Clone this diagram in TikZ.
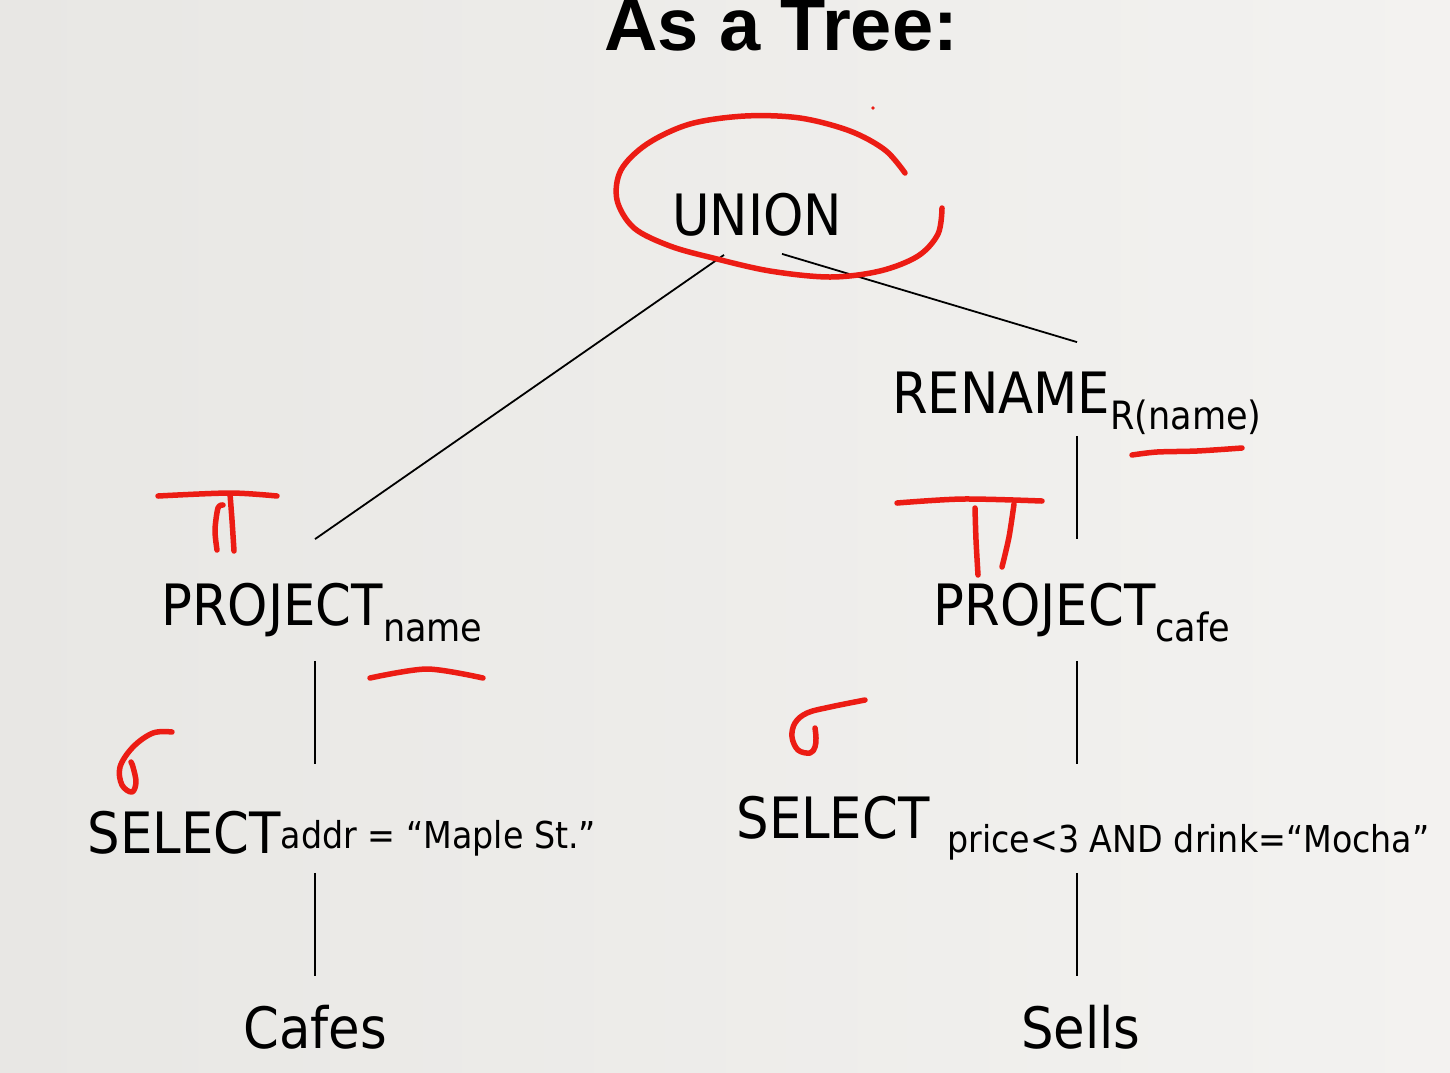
\documentclass[tikz,border=0pt]{standalone}
\usepackage{fontspec}
\newfontfamily\opfamily{DejaVu Sans Condensed}
\newfontfamily\headfamily{Liberation Sans}
\definecolor{inkred}{RGB}{236,28,20}
\definecolor{slideleft}{RGB}{232,231,228}
\definecolor{slideright}{RGB}{243,242,240}
\newcommand\opfont{\opfamily\fontsize{57}{60}\selectfont}
\newcommand\opsub[3][-16pt]{\raisebox{#1}{\opfamily\fontsize{#2}{42}\selectfont #3}}

\begin{document}
\begin{tikzpicture}[x=1pt, y=-1pt, line width=1.8pt,
  op/.style = {font=\opfont, inner sep=0pt, anchor=base, text height=42pt, text depth=0pt},
  ink/.style = {draw=inkred, line width=5.5pt, line cap=round, line join=round}]
\shade[left color=slideleft, right color=slideright] (0,0) rectangle (1450,1072);
\useasboundingbox (0,0) rectangle (1450,1072);
\node[font=\headfamily\bfseries\fontsize{74}{80}\selectfont, anchor=base, inner sep=0pt] (title) at (781,50) {As a Tree:};
\node[op] (union) at (757,235) {UNION};
\node[op] (rename) at (1077,413) {RENAME\opsub{39}{R(name)}};
\node[op] (projL) at (322,625) {PROJECT\opsub{39}{name}};
\node[op] (projR) at (1082,625) {PROJECT\opsub{39}{cafe}};
\node[op] (selL) at (342,853) {SELECT\opsub[5pt]{37}{addr = “Maple St.”}};
\node[op] (selR) at (1083,838) {SELECT\hspace{18pt}\opsub[-14pt]{37}{price<3 AND drink=“Mocha”}};
\node[op] (cafes) at (315,1048) {Cafes};
\node[op] (sells) at (1081,1048) {Sells};
\draw ([xshift=-33pt,yshift=-19pt]union.south) -- ([xshift=-7pt,yshift=43pt]projL.north);
\draw ([xshift=25pt,yshift=-18pt]union.south) -- ([yshift=28pt]rename.north);
\draw[shorten <=22pt, shorten >=43pt] (rename.south) -- (rename.south |- projR.north);
\draw[shorten <=35pt, shorten >=31pt] (projR.south -| rename) -- (selR.north -| rename);
\draw[shorten <=34pt, shorten >=29pt] (selR.south -| rename) -- (sells.north -| rename);
\draw[shorten <=35pt, shorten >=46pt] (projL.south -| cafes) -- (selL.north -| cafes);
\draw[shorten <=19pt, shorten >=29pt] (selL.south -| cafes) -- (cafes.north);
\draw[ink] plot[smooth, tension=0.55] coordinates {(905,173) (885,150) (850,131) (800,118) (745,116) (690,124) (647,144) (621,170) (617,200) (634,228) (670,246) (713,258) (770,271) (830,277) (880,271) (918,256) (938,234) (942,208)};
\fill[inkred] (873,108) circle (1.8);
\draw[ink] plot[smooth] coordinates {(158,496) (230,493) (277,496)};
\draw[ink] plot[smooth] coordinates {(223,505) (218,508) (215,530) (217,550)};
\draw[ink] plot[smooth] coordinates {(230,494) (232,520) (234,551)};
\draw[ink] plot[smooth, tension=0.6] coordinates {(172,732) (153,733) (133,747) (120,767) (122,785) (132,792) (136,782) (133,767) (131,762)};
\draw[ink] plot[smooth] coordinates {(370,678) (427,669) (483,678)};
\draw[ink] plot[smooth] coordinates {(1132,455) (1157,452) (1197,451) (1242,448)};
\draw[ink] plot[smooth] coordinates {(897,503) (963,499) (1042,501)};
\draw[ink] plot[smooth] coordinates {(975,508) (976,540) (978,575)};
\draw[ink] plot[smooth] coordinates {(1014,504) (1009,537) (1002,567)};
\draw[ink] plot[smooth, tension=0.6] coordinates {(865,700) (830,707) (807,713) (795,723) (792,737) (798,750) (810,753) (815,747) (816,738) (815,728)};
\end{tikzpicture}
\end{document}
